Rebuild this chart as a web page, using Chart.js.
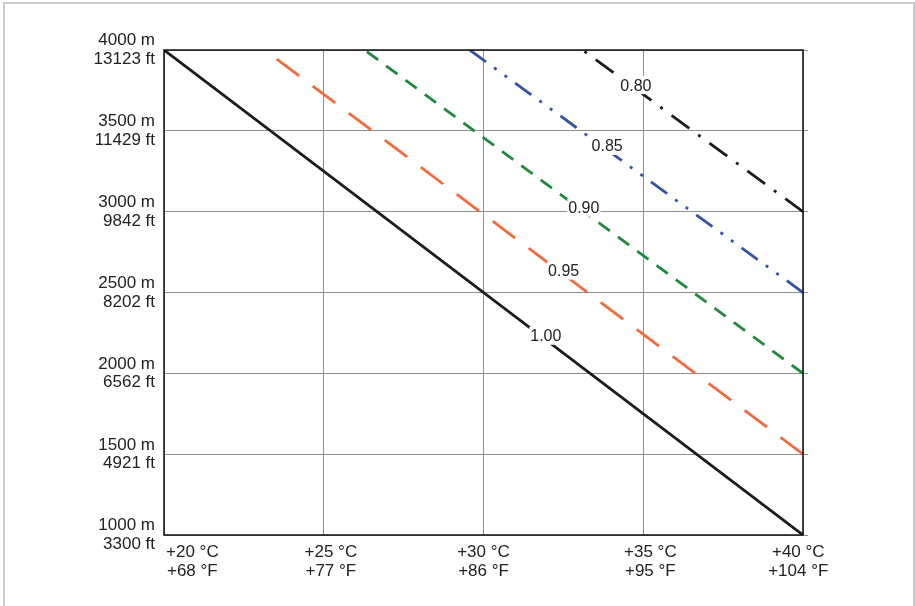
<!DOCTYPE html>
<html>
<head>
<meta charset="utf-8">
<script src="https://cdn.jsdelivr.net/npm/chart.js@4.4.1/dist/chart.umd.min.js"></script>
<style>
    html, body { margin: 0; padding: 0; background: #fff; overflow: hidden; }
    #wrap { position: relative; width: 915px; height: 606px; }
    #frame {
        position: absolute; left: 3px; top: 2px; width: 912px; height: 620px;
        border: 2px solid #cbcbcb; border-bottom: 0; box-sizing: border-box;
        pointer-events: none;
    }
</style>
</head>
<body>
<div id="wrap">
    <canvas id="chart" width="915" height="606"></canvas>
    <div id="frame"></div>
</div>
<script>
// Temperature axis (°C ticks with °F equivalents)
const tempC = [20, 25, 30, 35, 40];
const tempF = [68, 77, 86, 95, 104];
// Altitude axis (m ticks with ft equivalents, as printed)
const altM = [1000, 1500, 2000, 2500, 3000, 3500, 4000];
const altFt = ['3300', '4921', '6562', '8202', '9842', '11429', '13123'];

// Derating curves: each runs from (startC, 4000 m) down to (40 °C, endM)
const curveNames = ['1.00', '0.95', '0.90', '0.85', '0.80'];
const curveStartC = [20, 23.15, 26.28, 29.57, 33.1];
const curveStartM = [4000, 4000, 4000, 4000, 4000];
const curveEndC = [40, 40, 40, 40, 40];
const curveEndM = [1000, 1500, 2000, 2500, 3000];
// where the factor label sits along each curve (°C)
const labelAtC = [31.95, 32.51, 33.14, 33.87, 34.77];

const curveColors = ['#1c1c1c', '#f26a3d', '#1f8a3e', '#3553a6', '#1c1c1c'];
const curveDash = [[], [28, 17], [14, 10], [20, 10, 3, 10, 3, 10], [22, 11, 3, 11]];
// nudge for x labels, in spaces (neg = trailing)
const xLabelPad = [12, 3, 0, 3, -2];

const FONT = '"Liberation Sans", Arial, sans-serif';
Chart.defaults.font.family = FONT;
Chart.defaults.font.size = 17;
Chart.defaults.font.lineHeight = 1.1;
Chart.defaults.color = '#222';

// drawn from the 40 °C end so the dash pattern starts at the right edge
const datasets = curveNames.map((name, i) => ({
    label: name,
    data: [
        { x: curveEndC[i], y: curveEndM[i] },
        { x: curveStartC[i], y: curveStartM[i] }
    ],
    borderColor: curveColors[i],
    borderWidth: 2.8,
    borderDash: curveDash[i],
    pointRadius: 0,
    fill: false,
    tension: 0
}));

const framePlugin = {
    id: 'frame',
    afterDatasetsDraw(chart) {
        const { ctx, chartArea: a } = chart;
        ctx.save();
        ctx.strokeStyle = '#111';
        ctx.lineWidth = 1.5;
        ctx.strokeRect(a.left, a.top, a.right - a.left, a.bottom - a.top);
        ctx.restore();
    }
};

const curveLabelPlugin = {
    id: 'curveLabels',
    afterDatasetsDraw(chart) {
        const { ctx, scales: { x, y } } = chart;
        ctx.save();
        ctx.font = '16px ' + FONT;
        ctx.textAlign = 'center';
        ctx.textBaseline = 'middle';
        chart.data.datasets.forEach((ds, i) => {
            const p0 = ds.data[0], p1 = ds.data[1];
            const t = (labelAtC[i] - p0.x) / (p1.x - p0.x);
            const alt = p0.y + t * (p1.y - p0.y);
            const px = x.getPixelForValue(labelAtC[i]);
            const py = y.getPixelForValue(alt) - 4;
            const w = ctx.measureText(ds.label).width;
            ctx.fillStyle = '#fff';
            ctx.fillRect(px - w / 2 - 1, py - 9, w + 2, 18);
            ctx.fillStyle = '#222';
            ctx.fillText(ds.label, px, py + 1);
        });
        ctx.restore();
    }
};

const pad = (s, n) => n >= 0 ? ' '.repeat(n) + s : s + ' '.repeat(-n);

new Chart(document.getElementById('chart'), {
    type: 'line',
    data: { datasets },
    options: {
        responsive: false,
        animation: false,
        layout: { padding: { left: 0, right: 107, top: 50, bottom: 0 } },
        plugins: { legend: { display: false }, tooltip: { enabled: false } },
        scales: {
            x: {
                type: 'linear',
                min: 20, max: 40,
                afterFit(scale) { scale.height = 71; },
                afterBuildTicks(scale) { scale.ticks = tempC.map(v => ({ value: v })); },
                grid: { color: '#8f8f8f', lineWidth: 1, drawTicks: false },
                border: { display: false },
                ticks: {
                    autoSkip: false,
                    maxRotation: 0,
                    padding: 8,
                    callback(value) {
                        const i = tempC.indexOf(value);
                        if (i < 0) return '';
                        return [pad('+' + value + ' °C', xLabelPad[i]), pad('+' + tempF[i] + ' °F', xLabelPad[i])];
                    }
                }
            },
            y: {
                type: 'linear',
                min: 1000, max: 4000,
                afterFit(scale) { scale.width = 164; },
                afterBuildTicks(scale) { scale.ticks = altM.map(v => ({ value: v })); },
                grid: { color: '#8f8f8f', lineWidth: 1, drawTicks: false },
                border: { display: false },
                ticks: {
                    padding: 9,
                    callback(value) {
                        const i = altM.indexOf(value);
                        if (i < 0) return '';
                        return [value + ' m', altFt[i] + ' ft'];
                    }
                }
            },
            y2: {
                type: 'linear',
                position: 'right',
                min: 1000, max: 4000,
                afterFit(scale) { scale.width = 5; },
                afterBuildTicks(scale) { scale.ticks = altM.map(v => ({ value: v })); },
                grid: { drawOnChartArea: false, color: '#8f8f8f', tickLength: 5 },
                border: { display: false },
                ticks: { display: false }
            }
        }
    },
    plugins: [framePlugin, curveLabelPlugin]
});
</script>
</body>
</html>
